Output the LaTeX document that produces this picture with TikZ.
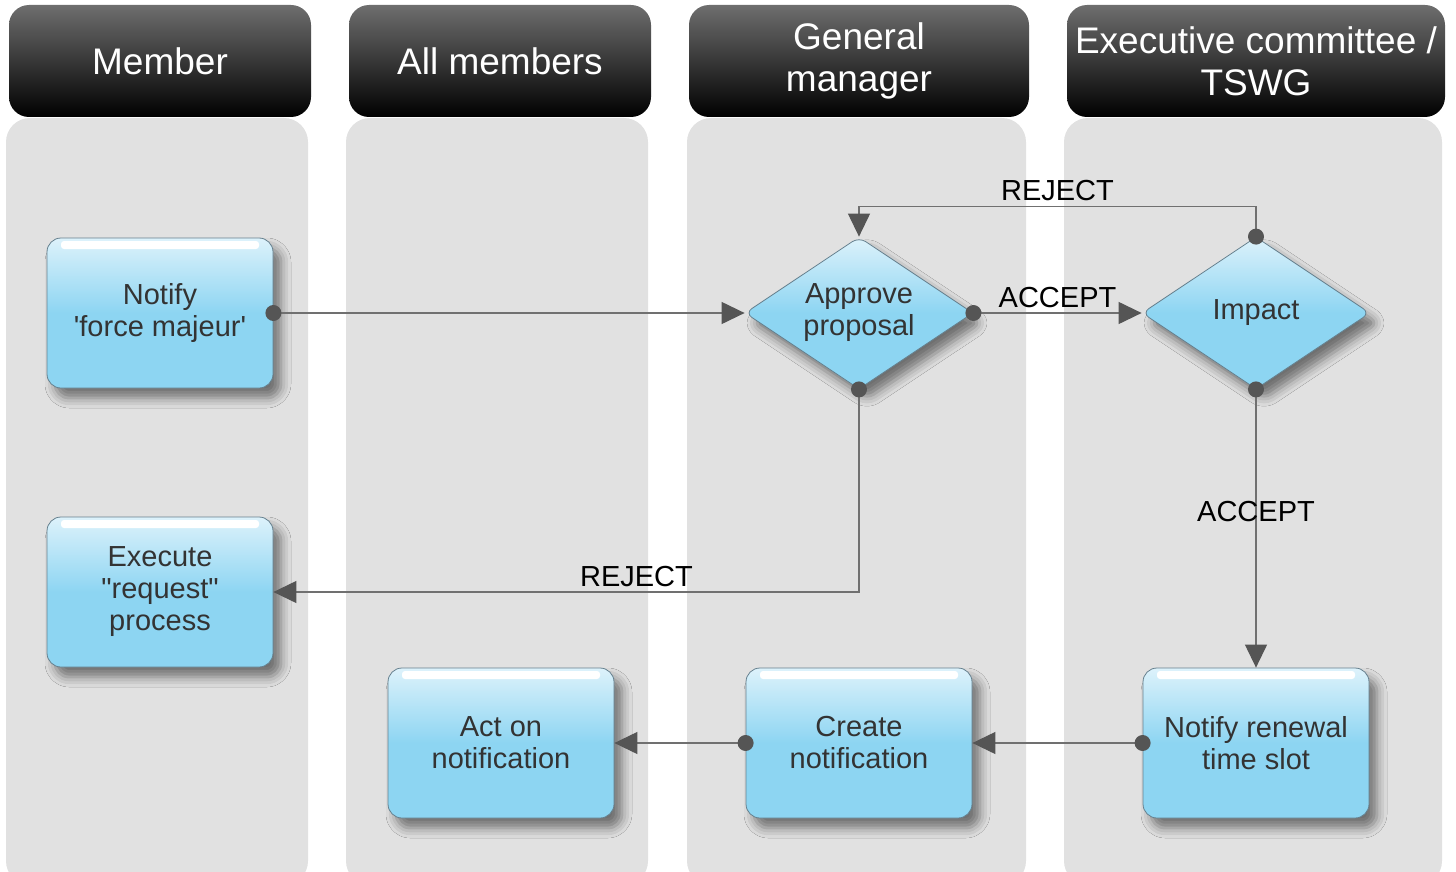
\documentclass[tikz,border=0pt]{standalone}
\usepackage{fontspec}
\setmainfont{Liberation Sans}[Ligatures=TeXOff]
\usetikzlibrary{shapes.geometric,arrows.meta,shadows.blur}
\definecolor{lanegray}{HTML}{E1E1E1}
\definecolor{headtop}{HTML}{6E6E6E}
\definecolor{boxtop}{HTML}{DDF2FB}
\definecolor{boxblue}{HTML}{8DD5F2}
\definecolor{boxline}{HTML}{66808E}
\definecolor{linegray}{HTML}{707070}
\definecolor{tipgray}{HTML}{555555}
\definecolor{boxtext}{HTML}{333333}
\newcommand{\headfont}{\fontsize{37}{42}\selectfont}
\newcommand{\bodyfont}{\fontsize{29}{32}\selectfont}
\tikzset{
	lane/.style={fill=lanegray,rounded corners=24pt},
	lanehead/.style={rectangle,rounded corners=20pt,top color=headtop,bottom color=black,minimum height=112pt,inner sep=2pt,text=white,font=\headfont,align=center},
	gloss/.style={path picture={\fill[white,rounded corners=3pt] ([xshift=14pt,yshift=-3pt]path picture bounding box.north west) rectangle ([xshift=-14pt,yshift=-11pt]path picture bounding box.north east);}},
	soft shadow/.style={blur shadow={shadow xshift=8pt,shadow yshift=-10pt,shadow blur radius=10pt,shadow opacity=50}},
	task/.style={rectangle,rounded corners=14pt,draw=boxline,line width=0.8pt,top color=boxtop,bottom color=boxblue,middle color=boxblue,minimum width=226pt,minimum height=150pt,align=center,text=boxtext,font=\bodyfont,gloss,soft shadow},
	decision/.style={diamond,aspect=1.5,rounded corners=8pt,inner sep=0pt,draw=boxline,line width=0.8pt,top color=boxtop,bottom color=boxblue,middle color=boxblue,minimum width=228pt,minimum height=152pt,align=center,text=boxtext,font=\bodyfont,soft shadow},
	flow/.style={draw=linegray,line width=1.2pt,-{Triangle[length=23pt,width=22pt,color=tipgray]}},
	dot/.style={circle,inner sep=0pt,minimum size=16pt,fill=tipgray},
	lbl/.style={font=\bodyfont,text=black,inner sep=5pt}
}
\begin{document}
\begin{tikzpicture}[x=1pt,y=-1pt]
	\useasboundingbox (0,0) rectangle (1456,872);
	\clip (0,0) rectangle (1456,872);

	% swim lanes
	\fill[lane] (6,118) rectangle (308,885);
	\fill[lane] (346,118) rectangle (648,885);
	\fill[lane] (687,118) rectangle (1026,885);
	\fill[lane] (1064,118) rectangle (1442,885);

	\node[lanehead,minimum width=302pt] (hmember) at (160,61) {Member};
	\node[lanehead,minimum width=302pt] (hall) at (500,61) {All members};
	\node[lanehead,minimum width=340pt] (hgm) at (859,61) {General\\manager};
	\node[lanehead,minimum width=378pt] (hexec) at (1256,61) {Executive committee /\\TSWG};

	% steps
	\node[task] (notify) at (160,313) {Notify\\'force majeur'};
	\node[task] (execute) at (160,592) {Execute\\"request"\\process};
	\node[task] (act) at (501,743) {Act on\\notification};
	\node[task] (create) at (859,743) {Create\\notification};
	\node[task] (renew) at (1256,743) {Notify renewal\\time slot};
	\node[decision] (approve) at (859,313) {Approve\\proposal};
	\node[decision] (impact) at (1256,313) {Impact};

	% connectors
	\draw[flow] (notify.east) -- (approve.west);
	\draw[flow] (approve.east) -- node[lbl,above]{ACCEPT} (impact.west);
	\draw[flow] (impact.north) -- ++(0,-30) -| node[lbl,above,pos=0.25]{REJECT} (approve.north);
	\draw[flow] (approve.south) |- node[lbl,above,pos=0.69]{REJECT} (execute.east);
	\draw[flow] (impact.south) -- node[lbl,inner sep=0pt,pos=0.44]{ACCEPT} (renew.north);
	\draw[flow] (renew.west) -- (create.east);
	\draw[flow] (create.west) -- (act.east);

	\node[dot] (d1) at (notify.east) {};
	\node[dot] (d2) at (approve.east) {};
	\node[dot] (d3) at (approve.south) {};
	\node[dot] (d4) at (impact.north) {};
	\node[dot] (d5) at (impact.south) {};
	\node[dot] (d6) at (renew.west) {};
	\node[dot] (d7) at (create.west) {};
\end{tikzpicture}
\end{document}
